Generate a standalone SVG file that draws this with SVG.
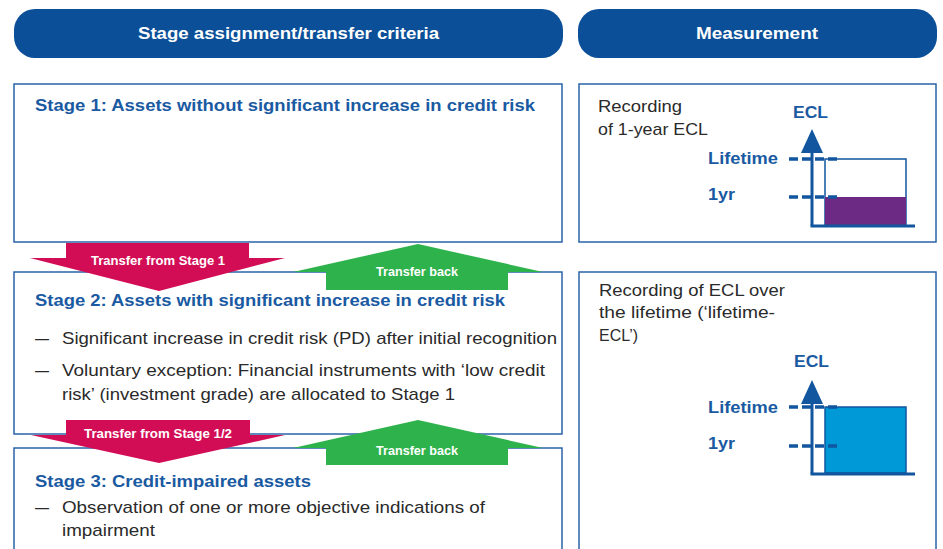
<svg xmlns="http://www.w3.org/2000/svg" width="943" height="549" viewBox="0 0 943 549">
<defs>
<style>
.hdr{fill:#0A4F98}
.hdrt{fill:#ffffff;font-family:"Liberation Sans",Arial,sans-serif;font-weight:bold;font-size:16px;text-anchor:middle}
.box{fill:#ffffff;stroke:#2A63A8;stroke-width:1.5}
.ttl{fill:#1A5AA2;font-family:"Liberation Sans",Arial,sans-serif;font-weight:bold;font-size:17px}
.body{fill:#2a2a2a;font-family:"Liberation Sans",Arial,sans-serif;font-size:17px}
.arrt{fill:#ffffff;font-family:"Liberation Sans",Arial,sans-serif;font-weight:bold;font-size:12px;text-anchor:middle}
.red{fill:#D20D55}
.grn{fill:#2EB24B}
.axis{stroke:#11569E;stroke-width:3;fill:none}
.dash{stroke:#11569E;stroke-width:3.5;stroke-dasharray:9 4;fill:none}
.ahead{fill:#11569E}
.lbl{fill:#1A5AA2;font-family:"Liberation Sans",Arial,sans-serif;font-weight:bold;font-size:16px}
</style>
</defs>

<g id="header-criteria">
<rect class="hdr" x="14" y="9" width="549" height="49" rx="21"/>
<text class="hdrt" x="288.5" y="39" textLength="301" lengthAdjust="spacingAndGlyphs">Stage assignment/transfer criteria</text>
</g>
<g id="header-measurement">
<rect class="hdr" x="578" y="9" width="359" height="49" rx="21"/>
<text class="hdrt" x="757" y="39" textLength="122" lengthAdjust="spacingAndGlyphs">Measurement</text>
</g>

<g id="stage1">
<rect class="box" x="14" y="84" width="548" height="158"/>
<text class="ttl" x="35" y="111" textLength="500" lengthAdjust="spacingAndGlyphs">Stage 1: Assets without significant increase in credit risk</text>
</g>

<g id="stage2">
<rect class="box" x="14" y="272" width="548" height="162"/>
<text class="ttl" x="35" y="306" textLength="470" lengthAdjust="spacingAndGlyphs">Stage 2: Assets with significant increase in credit risk</text>
<text class="body" x="35" y="344" textLength="14" lengthAdjust="spacingAndGlyphs">—</text>
<text class="body" x="62" y="344" textLength="495" lengthAdjust="spacingAndGlyphs">Significant increase in credit risk (PD) after initial recognition</text>
<text class="body" x="35" y="376" textLength="14" lengthAdjust="spacingAndGlyphs">—</text>
<text class="body" x="62" y="376" textLength="483" lengthAdjust="spacingAndGlyphs">Voluntary exception: Financial instruments with ‘low credit</text>
<text class="body" x="62" y="400" textLength="393" lengthAdjust="spacingAndGlyphs">risk’ (investment grade) are allocated to Stage 1</text>
</g>

<g id="stage3">
<rect class="box" x="14" y="448" width="548" height="114"/>
<text class="ttl" x="35" y="487" textLength="276" lengthAdjust="spacingAndGlyphs">Stage 3: Credit-impaired assets</text>
<text class="body" x="35" y="513" textLength="14" lengthAdjust="spacingAndGlyphs">—</text>
<text class="body" x="62" y="513" textLength="423" lengthAdjust="spacingAndGlyphs">Observation of one or more objective indications of</text>
<text class="body" x="62" y="536" textLength="93" lengthAdjust="spacingAndGlyphs">impairment</text>
</g>

<g id="measure1">
<rect class="box" x="579" y="84" width="357" height="158"/>
<text class="body" x="598" y="112" textLength="84" lengthAdjust="spacingAndGlyphs">Recording</text>
<text class="body" x="598" y="135" textLength="110" lengthAdjust="spacingAndGlyphs">of 1-year ECL</text>
<text class="lbl" x="793" y="118" textLength="35" lengthAdjust="spacingAndGlyphs">ECL</text>
<rect x="825" y="159" width="81" height="66" fill="#ffffff" stroke="#11569E" stroke-width="1.5"/>
<rect x="825" y="197" width="81" height="28" fill="#6C2A84"/>
<line class="axis" x1="812" y1="150" x2="812" y2="226"/>
<line class="axis" x1="810.5" y1="226" x2="915" y2="226"/>
<polygon class="ahead" points="812,129 823,153 801,153"/>
<line class="dash" x1="789" y1="159" x2="837" y2="159"/>
<line class="dash" x1="789" y1="197" x2="837" y2="197"/>
<text class="lbl" x="708" y="164" textLength="70" lengthAdjust="spacingAndGlyphs">Lifetime</text>
<text class="lbl" x="708" y="200" textLength="27" lengthAdjust="spacingAndGlyphs">1yr</text>
</g>

<g id="measure2">
<rect class="box" x="579" y="272" width="357" height="290"/>
<text class="body" x="599" y="296" textLength="186" lengthAdjust="spacingAndGlyphs">Recording of ECL over</text>
<text class="body" x="599" y="318" textLength="176" lengthAdjust="spacingAndGlyphs">the lifetime (‘lifetime-</text>
<text class="body" x="599" y="341" textLength="39" lengthAdjust="spacingAndGlyphs">ECL’)</text>
<text class="lbl" x="794" y="367" textLength="35" lengthAdjust="spacingAndGlyphs">ECL</text>
<rect x="825" y="407" width="81" height="66" fill="#0099D8" stroke="#11569E" stroke-width="1.5"/>
<line class="axis" x1="812" y1="400" x2="812" y2="474"/>
<line class="axis" x1="810.5" y1="474" x2="915" y2="474"/>
<polygon class="ahead" points="812,380 823,404 801,404"/>
<line class="dash" x1="789" y1="407" x2="837" y2="407"/>
<line class="dash" x1="789" y1="446" x2="837" y2="446"/>
<text class="lbl" x="708" y="413" textLength="70" lengthAdjust="spacingAndGlyphs">Lifetime</text>
<text class="lbl" x="708" y="449" textLength="27" lengthAdjust="spacingAndGlyphs">1yr</text>
</g>

<g id="connectors">
<g id="transfer-1-2">
<polygon class="red" points="66,243 249,243 249,258 285,258 159,291 30,258 66,258"/>
<text class="arrt" x="158" y="265" textLength="134" lengthAdjust="spacingAndGlyphs">Transfer from Stage 1</text>
</g>
<g id="transfer-back-2-1">
<polygon class="grn" points="418,244 543,272 508,272 508,290 326,290 326,272 293,272"/>
<text class="arrt" x="417" y="276" textLength="82" lengthAdjust="spacingAndGlyphs">Transfer back</text>
</g>
<g id="transfer-12-3">
<polygon class="red" points="66,420 250,420 250,435 285,435 159,463 31,435 66,435"/>
<text class="arrt" x="158" y="438" textLength="148" lengthAdjust="spacingAndGlyphs">Transfer from Stage 1/2</text>
</g>
<g id="transfer-back-3-2">
<polygon class="grn" points="418,420 543,448 508,448 508,465 326,465 326,448 293,448"/>
<text class="arrt" x="417" y="455" textLength="82" lengthAdjust="spacingAndGlyphs">Transfer back</text>
</g>
</g>
</svg>
